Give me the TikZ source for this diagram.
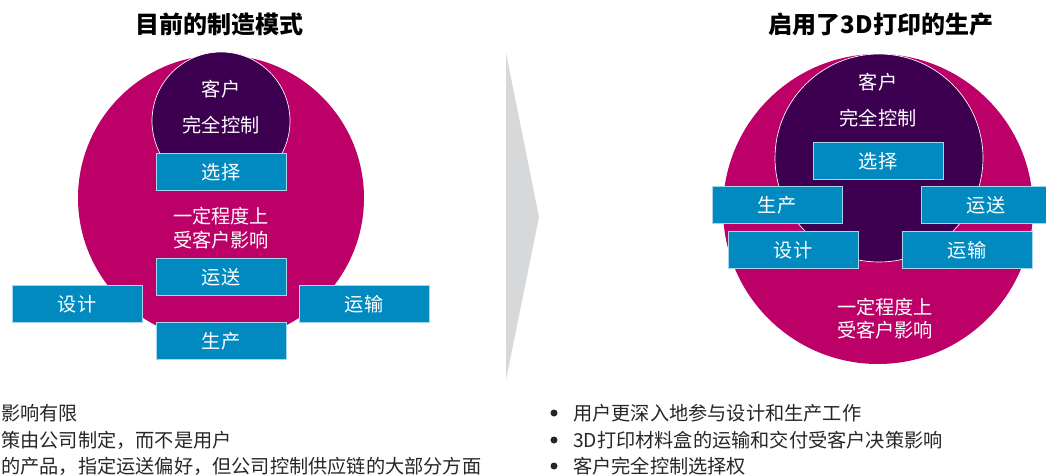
\documentclass[tikz,border=0pt]{standalone}
\usepackage{fontspec}
\setmainfont{Noto Sans CJK SC}
\definecolor{outerpink}{HTML}{BC0067}
\definecolor{innerpurple}{HTML}{3D0050}
\definecolor{stageblue}{HTML}{008AC0}
\definecolor{stageline}{HTML}{A6D6EC}
\definecolor{arrowgray}{HTML}{D7D8DA}
\begin{document}
\begin{tikzpicture}[x=0.75pt,y=-0.75pt,
    stagebox/.style={fill=stageblue, draw=stageline, line width=0.6pt, text=white,
        minimum width=97.5pt, minimum height=27.75pt, inner sep=0pt,
        font=\fontsize{14.4}{17}\selectfont},
    whitetext/.style={text=white, inner sep=0pt, font=\fontsize{14.4}{17}\selectfont},
    title/.style={inner sep=0pt, font=\fontsize{18}{21}\selectfont\bfseries},
    bullettext/.style={anchor=west, inner sep=0pt, text=black!85, font=\fontsize{14.4}{17}\selectfont}]
    \useasboundingbox (0,0) rectangle (1046,475);

    % left: today
    \node[title] (titleL) at (219,24) {目前的制造模式};
    \fill[outerpink] (221,198) circle[radius=143];
    \draw[white, line width=0.5pt, fill=innerpurple] (221,121) circle[radius=69];
    \node[whitetext] (custL) at (221,89) {客户};
    \node[whitetext] (fullL) at (221,125) {完全控制};
    \node[whitetext] (partL1) at (221,216) {一定程度上};
    \node[whitetext] (partL2) at (221,240) {受客户影响};
    \node[stagebox] (selL) at (221,172) {选择};
    \node[stagebox] (shipL) at (221,277) {运送};
    \node[stagebox] (designL) at (77,304) {设计};
    \node[stagebox] (transL) at (364,304) {运输};
    \node[stagebox] (prodL) at (221,341) {生产};

    \node[bullettext] (noteL1) at (1,413) {影响有限};
    \node[bullettext] (noteL2) at (1,440) {策由公司制定，而不是用户};
    \node[bullettext] (noteL3) at (1,466) {的产品，指定运送偏好，但公司控制供应链的大部分方面};

    % arrow
    \fill[arrowgray] (506,53) -- (539,217) -- (506,380) -- cycle;

    % right: with 3D printing
    \node[title] (titleR) at (881,24) {启用了3D打印的生产};
    \fill[outerpink] (878,209) circle[radius=155];
    \draw[white, line width=0.5pt, fill=innerpurple] (879,158) circle[radius=104];
    \node[whitetext] (custR) at (878,82) {客户};
    \node[whitetext] (fullR) at (878,118) {完全控制};
    \node[whitetext] (partR1) at (885,307) {一定程度上};
    \node[whitetext] (partR2) at (885,330) {受客户影响};
    \node[stagebox] (selR) at (878,161) {选择};
    \node[stagebox] (prodR) at (777,205) {生产};
    \node[stagebox] (shipR) at (986,205) {运送};
    \node[stagebox] (designR) at (793,250) {设计};
    \node[stagebox] (transR) at (967,250) {运输};

    \foreach \y/\txt [count=\i] in {413/用户更深入地参与设计和生产工作,
        440/3D打印材料盒的运输和交付受客户决策影响,
        466/客户完全控制选择权} {
        \fill[black!85] (554,\y) circle[radius=3.5];
        \node[bullettext] (noteR\i) at (573,\y) {\txt};
    }
\end{tikzpicture}
\end{document}
